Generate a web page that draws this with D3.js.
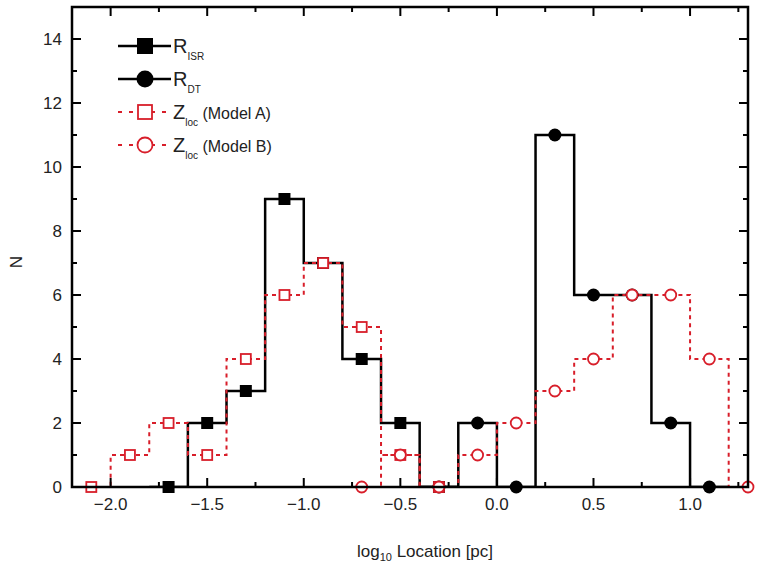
<html>
<script src='https://d3js.org/d3.v7.min.js'></script>
<style>
body {margin:0; background:#fff;}
text {font-family: "Liberation Sans", Arial, sans-serif; fill:#222;}
</style>
<body>
<svg width=760 height=577></svg>
<script>
// histogram counts, bin width 0.2 in log10 location
var isrX = [-1.7,-1.5,-1.3,-1.1,-0.9,-0.7,-0.5,-0.3];
var isrN = [0,2,3,9,7,4,2,0];
var dtX = [-0.3,-0.1,0.1,0.3,0.5,0.7,0.9,1.1];
var dtN = [0,2,0,11,6,6,2,0];
var modelAX = [-2.1,-1.9,-1.7,-1.5,-1.3,-1.1,-0.9,-0.7,-0.5,-0.3];
var modelAN = [0,1,2,1,4,6,7,5,1,0];
var modelBX = [-0.7,-0.5,-0.3,-0.1,0.1,0.3,0.5,0.7,0.9,1.1,1.3];
var modelBN = [0,1,0,1,2,3,4,6,6,4,0];
var xTicks = [-2.0,-1.5,-1.0,-0.5,0.0,0.5,1.0];
var yTicks = [0,2,4,6,8,10,12,14];
var binW = 0.2;
var red = "#d81e2a";

var svg = d3.select("svg");
var pL = 72, pR = 748, pT = 7, pB = 487;

var x = d3.scaleLinear().domain([-2.2, 1.3]).range([pL, pR]);
var y = d3.scaleLinear().domain([0, 15]).range([pB, pT]);

svg.append("clipPath").attr("id", "clip")
    .append("rect").attr("x", pL).attr("y", pT)
    .attr("width", pR - pL).attr("height", pB - pT);

// step outline: flat across each bin, vertical at bin edges
function stepPts(xs, ns) {
    var pts = [];
    xs.forEach(function(v, i) {
        pts.push([v - binW / 2, ns[i]]);
        pts.push([v + binW / 2, ns[i]]);
    });
    return pts;
}
var line = d3.line().x(function(d) { return x(d[0]); }).y(function(d) { return y(d[1]); });

var plot = svg.append("g").attr("clip-path", "url(#clip)");

plot.append("path").attr("d", line(stepPts(isrX, isrN)))
    .attr("fill", "none").attr("stroke", "#000").attr("stroke-width", 2.5);
plot.append("path").attr("d", line(stepPts(dtX, dtN)))
    .attr("fill", "none").attr("stroke", "#000").attr("stroke-width", 2.5);
plot.append("path").attr("d", line(stepPts(modelAX, modelAN)))
    .attr("fill", "none").attr("stroke", red).attr("stroke-width", 2)
    .attr("stroke-dasharray", "4,4");
plot.append("path").attr("d", line(stepPts(modelBX, modelBN)))
    .attr("fill", "none").attr("stroke", red).attr("stroke-width", 2)
    .attr("stroke-dasharray", "4,4");

var pts = svg.append("g");
pts.selectAll(".isr").data(isrX).enter().append("rect")
    .attr("x", function(d) { return x(d) - 6; })
    .attr("y", function(d, i) { return y(isrN[i]) - 6; })
    .attr("width", 12).attr("height", 12).attr("fill", "#000");
pts.selectAll(".dt").data(dtX).enter().append("circle")
    .attr("cx", function(d) { return x(d); })
    .attr("cy", function(d, i) { return y(dtN[i]); })
    .attr("r", 6.5).attr("fill", "#000");
pts.selectAll(".ma").data(modelAX).enter().append("rect")
    .attr("x", function(d) { return x(d) - 5; })
    .attr("y", function(d, i) { return y(modelAN[i]) - 5; })
    .attr("width", 10).attr("height", 10)
    .attr("fill", "#fff").attr("stroke", red).attr("stroke-width", 1.8);
pts.selectAll(".mb").data(modelBX).enter().append("circle")
    .attr("cx", function(d) { return x(d); })
    .attr("cy", function(d, i) { return y(modelBN[i]); })
    .attr("r", 5.5)
    .attr("fill", "#fff").attr("stroke", red).attr("stroke-width", 1.8);

// frame and ticks (inward)
var ax = svg.append("g").attr("stroke", "#000").attr("stroke-width", 2);
var xMinor = d3.range(-1.75, 1.3, 0.5);
var yMinor = d3.range(1, 15, 2);
function xTick(v, len) {
    ax.append("line").attr("x1", x(v)).attr("x2", x(v)).attr("y1", pB).attr("y2", pB - len);
    ax.append("line").attr("x1", x(v)).attr("x2", x(v)).attr("y1", pT).attr("y2", pT + len);
}
function yTick(v, len) {
    ax.append("line").attr("x1", pL).attr("x2", pL + len).attr("y1", y(v)).attr("y2", y(v));
    ax.append("line").attr("x1", pR).attr("x2", pR - len).attr("y1", y(v)).attr("y2", y(v));
}
xTicks.forEach(function(v) { xTick(v, 9); });
xMinor.forEach(function(v) { xTick(v, 5); });
yTicks.forEach(function(v) { yTick(v, 9); });
yMinor.forEach(function(v) { yTick(v, 5); });
ax.append("rect").attr("x", pL).attr("y", pT)
    .attr("width", pR - pL).attr("height", pB - pT)
    .attr("fill", "none").attr("stroke-width", 2.5);

svg.selectAll(".xl").data(xTicks).enter().append("text")
    .attr("x", function(d) { return x(d); }).attr("y", 510)
    .attr("text-anchor", "middle").attr("font-size", 17)
    .text(function(d) { return d.toFixed(1).replace("-", "\u2212"); });
svg.selectAll(".yl").data(yTicks).enter().append("text")
    .attr("x", 62).attr("y", function(d) { return y(d) + 6; })
    .attr("text-anchor", "end").attr("font-size", 17)
    .text(function(d) { return d; });

// axis titles
svg.append("text").attr("transform", "translate(22,262) rotate(-90)")
    .attr("text-anchor", "middle").attr("font-size", 17).text("N");
var xt = svg.append("text").attr("x", 425).attr("y", 557)
    .attr("text-anchor", "middle").attr("font-size", 17);
xt.append("tspan").text("log");
xt.append("tspan").attr("font-size", 11).attr("dy", 4).text("10");
xt.append("tspan").attr("dy", -4).text(" Location [pc]");

// legend
var legend = [
    {main: "R", sub: "ISR", rest: "", color: "#000", shape: "square", dash: null},
    {main: "R", sub: "DT", rest: "", color: "#000", shape: "circle", dash: null},
    {main: "Z", sub: "loc", rest: " (Model A)", color: red, shape: "osquare", dash: "4,7"},
    {main: "Z", sub: "loc", rest: " (Model B)", color: red, shape: "ocircle", dash: "4,7"}
];
var lg = svg.append("g");
legend.forEach(function(d, i) {
    var ly = 46 + i * 33;
    lg.append("line").attr("x1", 118).attr("x2", 171).attr("y1", ly).attr("y2", ly)
        .attr("stroke", d.color).attr("stroke-width", d.dash ? 2 : 2.5)
        .attr("stroke-dasharray", d.dash);
    if (d.shape === "square") {
        lg.append("rect").attr("x", 137).attr("y", ly - 8).attr("width", 16).attr("height", 16).attr("fill", "#000");
    } else if (d.shape === "circle") {
        lg.append("circle").attr("cx", 145).attr("cy", ly).attr("r", 8.5).attr("fill", "#000");
    } else if (d.shape === "osquare") {
        lg.append("rect").attr("x", 138).attr("y", ly - 7).attr("width", 14).attr("height", 14)
            .attr("fill", "#fff").attr("stroke", red).attr("stroke-width", 1.8);
    } else {
        lg.append("circle").attr("cx", 145).attr("cy", ly).attr("r", 7.5)
            .attr("fill", "#fff").attr("stroke", red).attr("stroke-width", 1.8);
    }
    var t = lg.append("text").attr("x", 173).attr("y", ly + 7).attr("font-size", 20);
    t.append("tspan").text(d.main);
    t.append("tspan").attr("font-size", 10).attr("dy", 7).text(d.sub);
    t.append("tspan").attr("font-size", 16).attr("dy", -7).text(d.rest);
});
</script>
</body>
</html>
